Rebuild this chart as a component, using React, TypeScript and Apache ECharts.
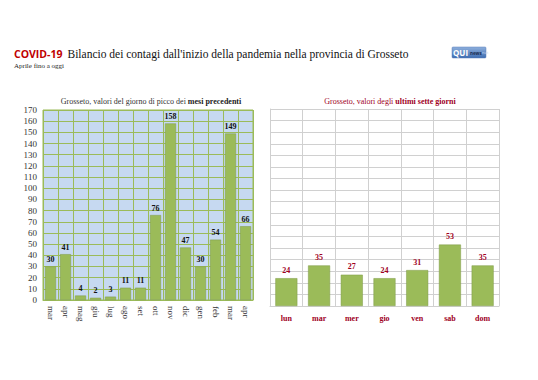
import React, { useEffect, useRef } from "react";
import * as echarts from "echarts";

const monthLabels = ["mar", "apr", "mag", "giu", "lug", "ago", "set", "ott", "nov", "dic", "gen", "feb", "mar", "apr"];
const monthValues = [30, 41, 4, 2, 3, 11, 11, 76, 158, 47, 30, 54, 149, 66];
const dayLabels = ["lun", "mar", "mer", "gio", "ven", "sab", "dom"];
const dayValues = [24, 35, 27, 24, 31, 53, 35];
const yMax = 170;
const yStep = 10;

const SERIF = "'Liberation Serif', 'DejaVu Serif', serif";
const SANS = "'Open Sans', 'Liberation Sans', sans-serif";
const DARKRED = "#a0001e";

export default function App() {
  const ref = useRef<HTMLDivElement>(null);
  useEffect(() => {
    if (!ref.current) return;
    const chart = echarts.init(ref.current, null, { renderer: "svg" });
    chart.setOption({
      animation: false,
      backgroundColor: "#ffffff",
      title: [
        {
          left: 9,
          top: 40,
          text: "{a|COVID-19} {b|Bilancio dei contagi dall'inizio della pandemia nella provincia di Grosseto}",
          textStyle: {
            fontWeight: "normal",
            rich: {
              a: { fontFamily: SANS, fontWeight: "bold", fontSize: 10.5, color: "#c00000" },
              b: { fontFamily: SERIF, fontWeight: "normal", fontSize: 11.5, color: "#111" },
            },
          },
        },
        {
          left: 9,
          top: 57,
          text: "Aprile fino a oggi",
          textStyle: { fontFamily: SERIF, fontSize: 7, fontWeight: "normal", color: "#222" },
        },
        {
          left: 146,
          textAlign: "center",
          top: 92,
          text: "Grosseto, valori del giorno di picco dei {b|mesi precedenti}",
          textStyle: {
            fontFamily: SERIF,
            fontSize: 8,
            fontWeight: "normal",
            color: "#333",
            rich: { b: { fontFamily: SERIF, fontSize: 8, fontWeight: "bold", color: "#222" } },
          },
        },
        {
          left: 385,
          textAlign: "center",
          top: 92,
          text: "Grosseto, valori degli {b|ultimi sette giorni}",
          textStyle: {
            fontFamily: SERIF,
            fontSize: 8,
            fontWeight: "normal",
            color: DARKRED,
            rich: { b: { fontFamily: SERIF, fontSize: 8, fontWeight: "bold", color: DARKRED } },
          },
        },
      ],
      graphic: [
        {
          type: "rect",
          shape: { x: 452, y: 47, width: 34, height: 11, r: 1 },
          style: {
            fill: new echarts.graphic.LinearGradient(0, 0, 0, 1, [
              { offset: 0, color: "#8fb0dd" },
              { offset: 1, color: "#3d6cb0" },
            ]),
            stroke: "#5a7fb8",
            lineWidth: 0.5,
          },
        },
        {
          type: "text",
          x: 453,
          y: 48,
          style: { text: "QUI", fontFamily: SANS, fontWeight: "bold", fontSize: 8, fill: "#ffffff" },
        },
        {
          type: "text",
          x: 470,
          y: 50,
          style: { text: "news", fontFamily: SANS, fontWeight: "bold", fontSize: 4.5, fill: "#1a2a50" },
        },
        {
          type: "text",
          x: 482,
          y: 50,
          style: { text: "net", fontFamily: SANS, fontSize: 4, fill: "#c8d8f0" },
        },
      ],
      grid: [
        {
          left: 43,
          top: 110,
          width: 210,
          height: 190,
          show: true,
          backgroundColor: "#c6d9f1",
          borderColor: "#9bbb59",
          borderWidth: 1,
        },
        {
          left: 270,
          top: 109,
          width: 229,
          height: 197,
          show: false,
        },
      ],
      xAxis: [
        {
          gridIndex: 0,
          type: "category",
          data: monthLabels,
          axisLine: { show: true, lineStyle: { color: "#9bbb59" } },
          axisTick: { show: false },
          splitLine: { show: true, interval: 0, lineStyle: { color: "#9bbb59", width: 1 } },
          axisLabel: {
            interval: 0,
            rotate: -90,
            fontFamily: SERIF,
            fontSize: 9,
            color: "#333",
            margin: 6,
          },
        },
        {
          gridIndex: 1,
          type: "category",
          data: dayLabels,
          axisLine: { show: true, lineStyle: { color: "#d0d0d0" } },
          axisTick: { show: false },
          splitLine: { show: true, interval: 0, lineStyle: { color: "#d0d0d0", width: 1 } },
          axisLabel: {
            interval: 0,
            fontFamily: SERIF,
            fontSize: 8,
            fontWeight: "bold",
            color: DARKRED,
            margin: 8,
          },
        },
      ],
      yAxis: [
        {
          gridIndex: 0,
          type: "value",
          min: 0,
          max: yMax,
          interval: yStep,
          axisLine: { show: false },
          axisTick: { show: false },
          splitLine: { show: true, lineStyle: { color: "#9bbb59", width: 1 } },
          axisLabel: { fontFamily: SERIF, fontSize: 9, color: "#333", margin: 6 },
        },
        {
          gridIndex: 1,
          type: "value",
          min: 0,
          max: yMax,
          interval: yStep,
          axisLine: { show: true, lineStyle: { color: "#d0d0d0" } },
          axisTick: { show: false },
          splitLine: { show: true, lineStyle: { color: "#d0d0d0", width: 1 } },
          axisLabel: { show: false },
        },
      ],
      series: [
        {
          type: "bar",
          xAxisIndex: 0,
          yAxisIndex: 0,
          data: monthValues,
          barWidth: 11,
          itemStyle: { color: "#9bbb59", borderColor: "#7f9a48", borderWidth: 0.5 },
          label: {
            show: true,
            position: "top",
            distance: 3,
            fontFamily: SERIF,
            fontWeight: "bold",
            fontSize: 8,
            color: "#111",
          },
        },
        {
          type: "bar",
          xAxisIndex: 1,
          yAxisIndex: 1,
          data: dayValues,
          barWidth: 22,
          itemStyle: { color: "#9bbb59", borderColor: "#7f9a48", borderWidth: 0.5 },
          label: {
            show: true,
            position: "top",
            distance: 4,
            fontFamily: SERIF,
            fontWeight: "bold",
            fontSize: 8,
            color: DARKRED,
          },
        },
      ],
    });
    return () => chart.dispose();
  }, []);
  return <div ref={ref} style={{ width: 538, height: 380, position: "absolute", left: 0, top: 0 }} />;
}
